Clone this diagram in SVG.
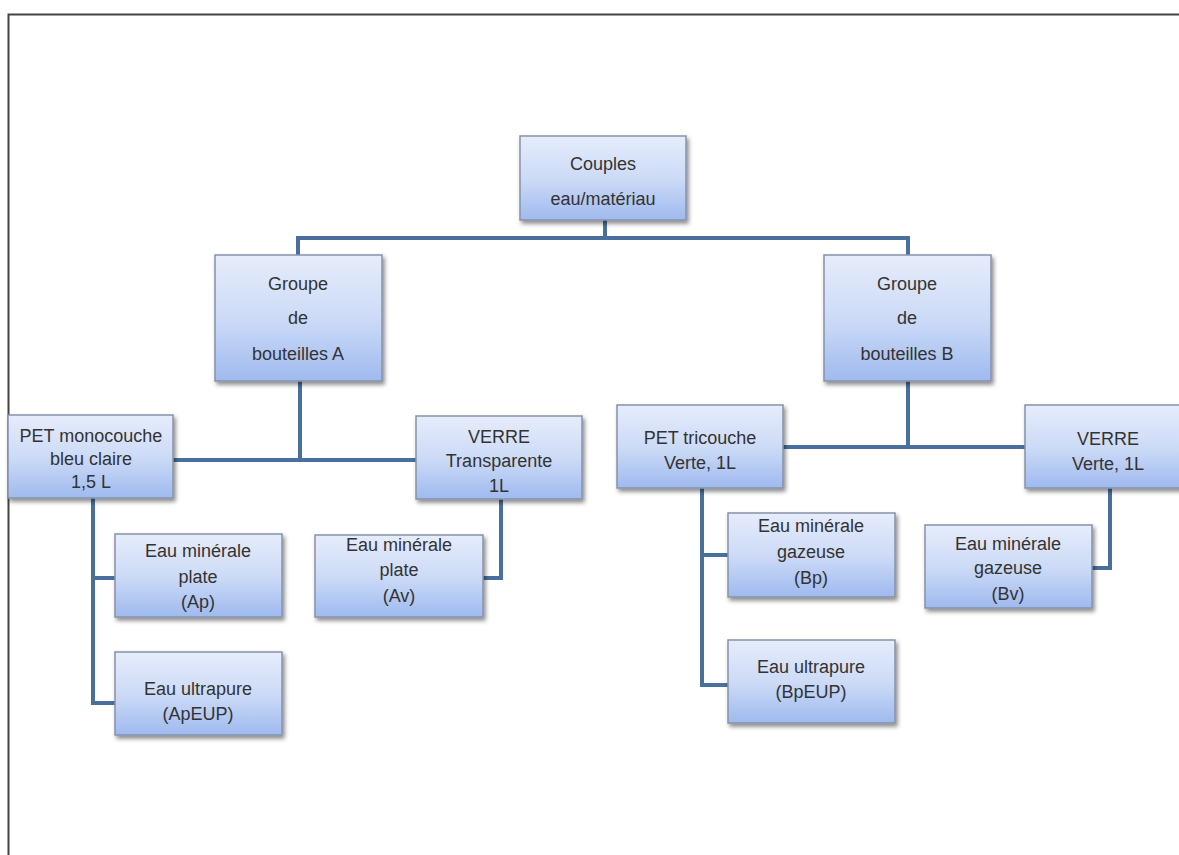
<svg xmlns="http://www.w3.org/2000/svg" width="1179" height="855" viewBox="0 0 1179 855">
<defs>
<linearGradient id="g" x1="0" y1="0" x2="0" y2="1">
<stop offset="0" stop-color="#e6ecfb"/>
<stop offset="0.5" stop-color="#cddbf7"/>
<stop offset="1" stop-color="#9fbaef"/>
</linearGradient>
<filter id="sh" x="-10%" y="-10%" width="125%" height="130%">
<feDropShadow dx="2" dy="3" stdDeviation="2" flood-color="#000" flood-opacity="0.45"/>
</filter>
<style>
.b{fill:url(#g);stroke:#8592a8;stroke-width:1.5;filter:url(#sh)}
.t{font-family:"Liberation Sans",Arial,sans-serif;font-size:18px;fill:#333;text-anchor:middle}
.c{fill:none;stroke:#4a6f9c;stroke-width:4}
.f{fill:none;stroke:#444;stroke-width:2}
</style>
</defs>
<rect x="0" y="0" width="1179" height="855" fill="#fff"/>
<path class="f" d="M8.5 855 V14.5 H1179"/>
<g id="connectors">
<path class="c" d="M605 220 V238"/>
<path class="c" d="M298 255 V238 H908 V255"/>
<path class="c" d="M300 381 V460"/>
<path class="c" d="M173 460 H416"/>
<path class="c" d="M93 498 V703 H115"/>
<path class="c" d="M93 578 H115"/>
<path class="c" d="M501 499 V578 H483"/>
<path class="c" d="M908 381 V447"/>
<path class="c" d="M783 447 H1025"/>
<path class="c" d="M702 488 V685 H728"/>
<path class="c" d="M702 555 H728"/>
<path class="c" d="M1110 488 V568 H1092"/>
</g>
<g id="n-root"><rect class="b" x="520" y="136" width="166" height="84"/>
<text class="t" x="603" y="170">Couples</text><text class="t" x="603" y="205">eau/matériau</text></g>
<g id="n-groupeA"><rect class="b" x="215" y="255" width="167" height="126"/>
<text class="t" x="298" y="290">Groupe</text><text class="t" x="298" y="324">de</text><text class="t" x="298" y="360">bouteilles A</text></g>
<g id="n-groupeB"><rect class="b" x="824" y="255" width="167" height="126"/>
<text class="t" x="907" y="290">Groupe</text><text class="t" x="907" y="324">de</text><text class="t" x="907" y="360">bouteilles B</text></g>
<g id="n-petA"><rect class="b" x="8" y="415" width="165" height="83"/>
<text class="t" x="91" y="442">PET monocouche</text><text class="t" x="91" y="465">bleu claire</text><text class="t" x="91" y="488">1,5 L</text></g>
<g id="n-verreA"><rect class="b" x="416" y="416" width="166" height="83"/>
<text class="t" x="499" y="443">VERRE</text><text class="t" x="499" y="467">Transparente</text><text class="t" x="499" y="492">1L</text></g>
<g id="n-Ap"><rect class="b" x="115" y="534" width="167" height="83"/>
<text class="t" x="198" y="557">Eau minérale</text><text class="t" x="198" y="583">plate</text><text class="t" x="198" y="608">(Ap)</text></g>
<g id="n-ApEUP"><rect class="b" x="115" y="652" width="167" height="83"/>
<text class="t" x="198" y="695">Eau ultrapure</text><text class="t" x="198" y="720">(ApEUP)</text></g>
<g id="n-Av"><rect class="b" x="315" y="535" width="168" height="82"/>
<text class="t" x="399" y="551">Eau minérale</text><text class="t" x="399" y="576">plate</text><text class="t" x="399" y="602">(Av)</text></g>
<g id="n-petB"><rect class="b" x="617" y="405" width="166" height="83"/>
<text class="t" x="700" y="444">PET tricouche</text><text class="t" x="700" y="469">Verte, 1L</text></g>
<g id="n-verreB"><rect class="b" x="1025" y="405" width="166" height="83"/>
<text class="t" x="1108" y="445">VERRE</text><text class="t" x="1108" y="470">Verte, 1L</text></g>
<g id="n-Bp"><rect class="b" x="728" y="513" width="167" height="84"/>
<text class="t" x="811" y="532">Eau minérale</text><text class="t" x="811" y="558">gazeuse</text><text class="t" x="811" y="584">(Bp)</text></g>
<g id="n-BpEUP"><rect class="b" x="728" y="640" width="167" height="83"/>
<text class="t" x="811" y="673">Eau ultrapure</text><text class="t" x="811" y="698">(BpEUP)</text></g>
<g id="n-Bv"><rect class="b" x="925" y="525" width="167" height="83"/>
<text class="t" x="1008" y="550">Eau minérale</text><text class="t" x="1008" y="574">gazeuse</text><text class="t" x="1008" y="600">(Bv)</text></g>
</svg>
